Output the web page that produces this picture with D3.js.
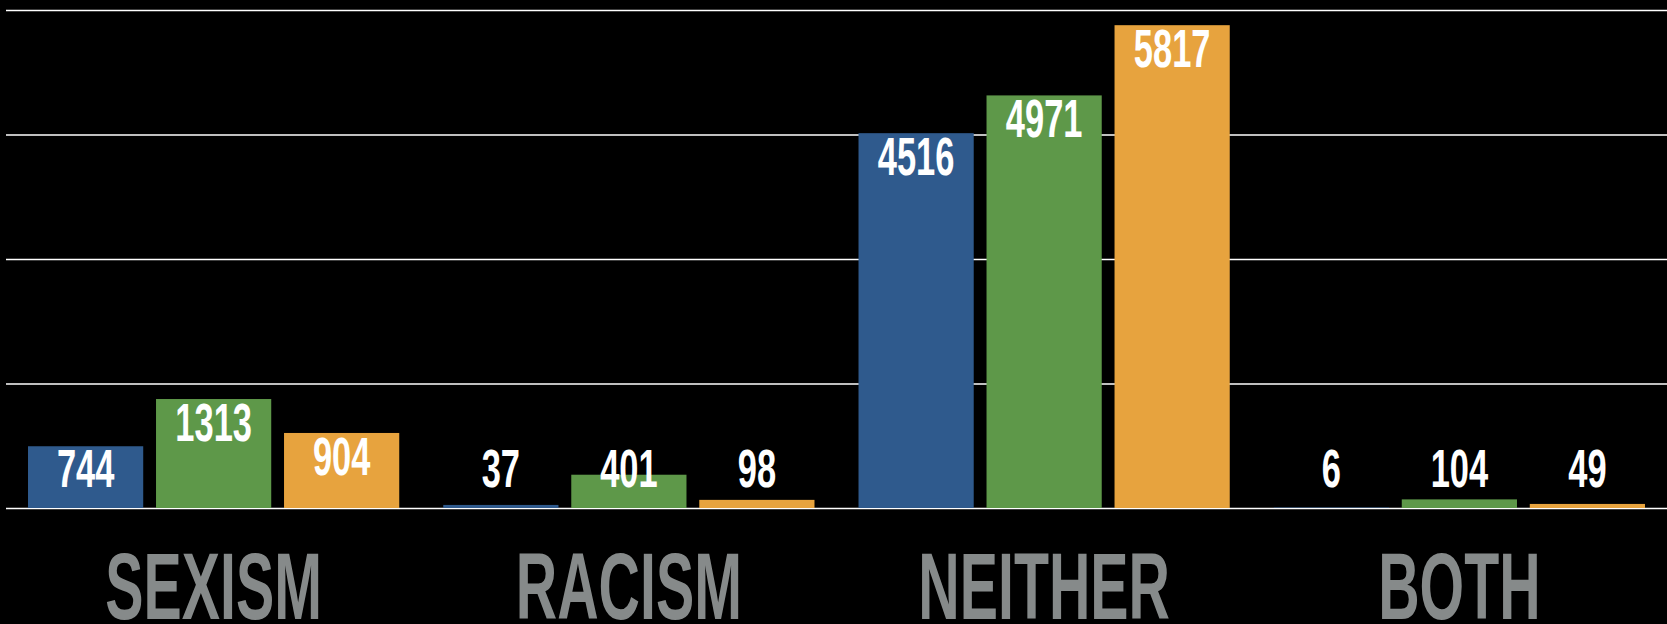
<!DOCTYPE html>
<html>
<head>
<meta charset="utf-8">
<script src="https://cdn.jsdelivr.net/npm/d3@7"></script>
<style>
  html, body { margin: 0; padding: 0; background: #000; }
  svg { display: block; }
</style>
</head>
<body>
<svg id="chart"></svg>
<script>
// data
var categories = ["SEXISM", "RACISM", "NEITHER", "BOTH"];
var series = ["s1", "s2", "s3"];
var s1Values = [744, 37, 4516, 6];
var s2Values = [1313, 401, 4971, 104];
var s3Values = [904, 98, 5817, 49];
var yTicks = [0, 1500, 3000, 4500, 6000];
var colours = ["#2f5a8d", "#5e9849", "#e7a33e"];

var W = 1667, H = 624;
var plot = { left: 6, right: 1667, top: 10, bottom: 508 };

var svg = d3.select("#chart").attr("width", W).attr("height", H);

var rows = categories.map(function(c, i){
  return { cat: c, vals: [s1Values[i], s2Values[i], s3Values[i]] };
});

var x0 = d3.scaleBand()
  .domain(categories)
  .range([plot.left, plot.right])
  .paddingInner(0.106)
  .paddingOuter(0.053);

var x1 = d3.scaleBand()
  .domain(series)
  .range([0, x0.bandwidth()])
  .paddingInner(0.1);

var y = d3.scaleLinear()
  .domain([0, 6000])
  .range([plot.bottom, plot.top]);

// gridlines
var grid = svg.append("g")
  .attr("transform", "translate(" + plot.left + ",0)")
  .call(d3.axisLeft(y).tickValues(yTicks).tickSize(-(plot.right - plot.left)).tickFormat(""));
grid.select(".domain").remove();
grid.selectAll("line").attr("stroke", "#ffffff").attr("stroke-width", 1.6);

// no condensed face installed, so squeeze Liberation Sans horizontally
var labelFont = "'Liberation Sans', Arial, sans-serif";

var groups = svg.selectAll("g.cat")
  .data(rows)
  .enter().append("g")
  .attr("class", "cat")
  .attr("transform", function(d){ return "translate(" + x0(d.cat) + ",0)"; });

var cells = groups.selectAll("g.bar")
  .data(function(d){ return d.vals.map(function(v, i){ return { key: series[i], v: v, i: i }; }); })
  .enter().append("g").attr("class", "bar");

cells.append("rect")
  .attr("x", function(d){ return x1(d.key); })
  .attr("y", function(d){ return y(d.v); })
  .attr("width", x1.bandwidth())
  .attr("height", function(d){ return y(0) - y(d.v); })
  .attr("fill", function(d){ return colours[d.i]; });

// value labels: inside end, but never lower than a fixed line
cells.append("text")
  .attr("transform", function(d){
    var ty = Math.min(y(d.v) + 42, y(0) - 21.5);
    return "translate(" + (x1(d.key) + x1.bandwidth() / 2) + "," + ty + ") scale(0.65,1)";
  })
  .attr("text-anchor", "middle")
  .attr("font-family", labelFont)
  .attr("font-weight", "bold")
  .attr("font-size", 53)
  .attr("fill", "#ffffff")
  .text(function(d){ return d.v; });

// category labels
svg.selectAll("text.cat")
  .data(categories)
  .enter().append("text")
  .attr("class", "cat")
  .attr("transform", function(d){
    return "translate(" + (x0(d) + x0.bandwidth() / 2) + ",619) scale(0.61,1)";
  })
  .attr("text-anchor", "middle")
  .attr("font-family", labelFont)
  .attr("font-weight", "bold")
  .attr("font-size", 94)
  .attr("fill", "#868a8a")
  .text(function(d){ return d; });
</script>
</body>
</html>
